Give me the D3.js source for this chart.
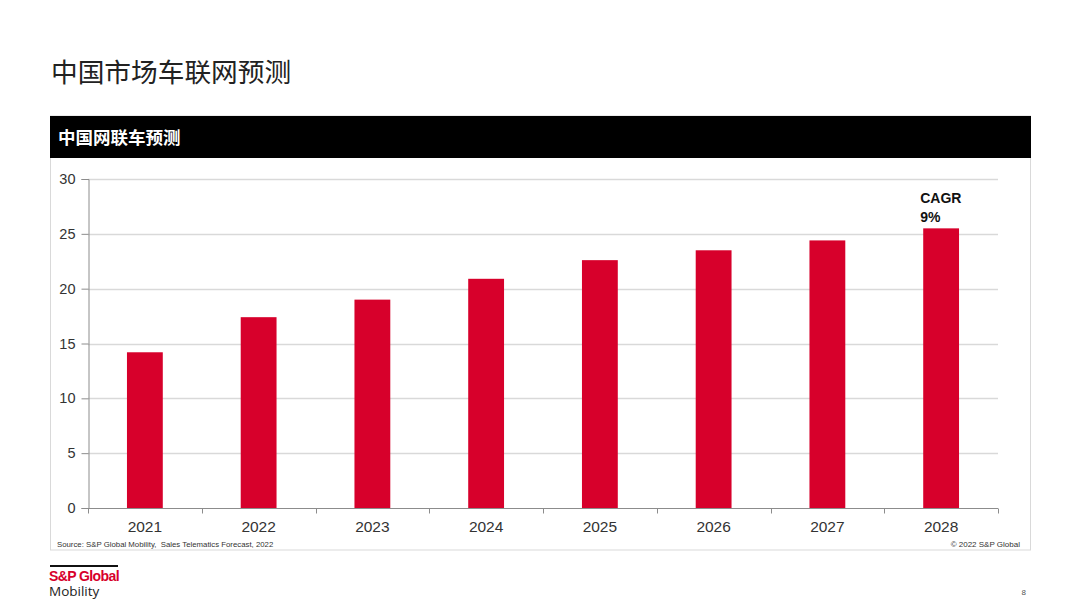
<!DOCTYPE html>
<html><head><meta charset="utf-8">
<script src="https://cdn.jsdelivr.net/npm/d3@7"></script>
<style>
html,body{margin:0;padding:0;background:#fff;}
svg{display:block;}
</style></head>
<body>
<svg id="c" width="1080" height="607"></svg>
<script>
const years = ["2021","2022","2023","2024","2025","2026","2027","2028"];
const values = [14.2, 17.4, 19.0, 20.9, 22.6, 23.5, 24.4, 25.5];
const yTicks = [0, 5, 10, 15, 20, 25, 30];
const pageTitle = "中国市场车联网预测";
const chartTitle = "中国网联车预测";
const annotation = ["CAGR", "9%"];
const sourceText = "Source: S&P Global Mobility,  Sales Telematics Forecast, 2022";
const copyrightText = "© 2022 S&P Global";

const svg = d3.select("#c");
const latin = "'Liberation Sans', Arial, sans-serif";
const cjk = "'Noto Sans CJK SC', sans-serif";

// page title
svg.append("text").attr("x", 51).attr("y", 82)
  .attr("font-family", cjk).attr("font-size", 26.7).attr("fill", "#222")
  .text(pageTitle);

// frame
svg.append("rect").attr("x", 50.5).attr("y", 116).attr("width", 980).attr("height", 434)
  .attr("fill", "#fff").attr("stroke", "#d9d9d9").attr("stroke-width", 1);
svg.append("rect").attr("x", 50).attr("y", 116).attr("width", 981).attr("height", 42)
  .attr("fill", "#000");
svg.append("text").attr("x", 58).attr("y", 144)
  .attr("font-family", cjk).attr("font-weight", 700).attr("font-size", 17.5).attr("fill", "#fff")
  .text(chartTitle);

// plot
const x = d3.scaleBand().domain(years).range([88, 998]).paddingInner(0.685).paddingOuter(0.3425);
const y = d3.scaleLinear().domain([0, 30]).range([508, 179]);

const g = svg.append("g");
// gridlines
g.selectAll("line.grid").data(yTicks.filter(d => d > 0)).join("line")
  .attr("x1", 88).attr("x2", 998)
  .attr("y1", d => Math.round(y(d)) + 0.5).attr("y2", d => Math.round(y(d)) + 0.5)
  .attr("stroke", "#d9d9d9").attr("stroke-width", 1.5);

// bars
g.selectAll("rect.bar").data(values).join("rect")
  .attr("x", (d, i) => x(years[i]))
  .attr("width", x.bandwidth())
  .attr("y", d => y(d))
  .attr("height", d => y(0) - y(d))
  .attr("fill", "#d7002b");

// y axis
const yAxis = svg.append("g").attr("transform", "translate(88.5,0)")
  .call(d3.axisLeft(y).tickValues(yTicks).tickSize(7).tickPadding(6));
yAxis.select(".domain").attr("stroke", "#8c8c8c");
yAxis.selectAll(".tick line").attr("stroke", "#8c8c8c");
yAxis.selectAll(".tick text").attr("font-family", latin).attr("font-size", 14.5).attr("fill", "#333");

// x axis
const xLine = d3.scaleLinear().domain([0, years.length]).range([88, 998]);
const xAxisG = svg.append("g").attr("transform", "translate(0,508.5)");
xAxisG.append("line").attr("x1", 88).attr("x2", 998).attr("stroke", "#8c8c8c");
xAxisG.selectAll("line.t").data(d3.range(years.length + 1)).join("line")
  .attr("x1", d => Math.round(xLine(d)) + 0.5).attr("x2", d => Math.round(xLine(d)) + 0.5)
  .attr("y1", 0).attr("y2", 5).attr("stroke", "#8c8c8c");
xAxisG.selectAll("text").data(years).join("text")
  .attr("x", d => x(d) + x.bandwidth() / 2).attr("y", 23)
  .attr("text-anchor", "middle")
  .attr("font-family", latin).attr("font-size", 15.5).attr("fill", "#333")
  .text(d => d);

// annotation
const last = years[years.length - 1];
svg.append("text").attr("x", x(last) - 3).attr("y", 203)
  .attr("font-family", latin).attr("font-weight", 700).attr("font-size", 14).attr("fill", "#111")
  .selectAll("tspan").data(annotation).join("tspan")
  .attr("x", x(last) - 3).attr("dy", (d, i) => i ? 19 : 0).text(d => d);

// source
svg.append("text").attr("x", 57).attr("y", 546.5)
  .attr("font-family", latin).attr("font-size", 7.8).attr("fill", "#333")
  .attr("xml:space", "preserve").style("white-space", "pre")
  .text(sourceText);
svg.append("text").attr("x", 1020).attr("y", 546.5).attr("text-anchor", "end")
  .attr("font-family", latin).attr("font-size", 8).attr("fill", "#333")
  .text(copyrightText);

// logo
svg.append("rect").attr("x", 50).attr("y", 565).attr("width", 68).attr("height", 2).attr("fill", "#111");
svg.append("text").attr("x", 49).attr("y", 581)
  .attr("font-family", latin).attr("font-weight", 700).attr("font-size", 14)
  .attr("letter-spacing", -0.6).attr("fill", "#d7002b").text("S&P Global");
svg.append("text").attr("x", 49).attr("y", 596)
  .attr("font-family", "'Open Sans', sans-serif").attr("font-size", 13.5).attr("fill", "#222").text("Mobility");

// page number
svg.append("text").attr("x", 1026).attr("y", 595).attr("text-anchor", "end")
  .attr("font-family", latin).attr("font-size", 8).attr("fill", "#555").text("8");
</script>
</body></html>
